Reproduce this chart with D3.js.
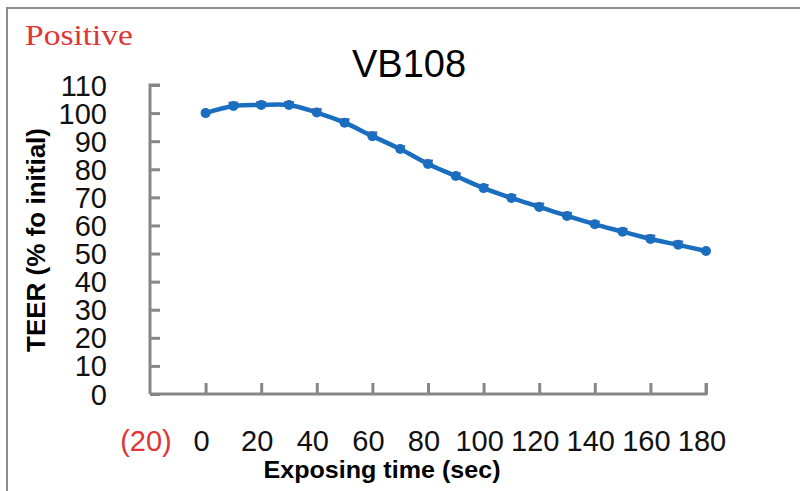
<!DOCTYPE html>
<html>
<head>
<meta charset="utf-8">
<script src="https://cdn.jsdelivr.net/npm/d3@7"></script>
<style>
  body { margin: 0; background: #fff; }
  text { font-family: Arial, "Liberation Sans", sans-serif; }
</style>
</head>
<body>
<div id="chart"></div>
<script>
// data
const times = [0, 10, 20, 30, 40, 50, 60, 70, 80, 90, 100, 110, 120, 130, 140, 150, 160, 170, 180];
const teer = [100, 102.5, 102.9, 102.9, 100.2, 96.6, 91.8, 87.2, 81.9, 77.6, 73.3, 69.8, 66.6, 63.4, 60.4, 57.8, 55.2, 53.1, 50.9];
const errs = [0, 1.2, 1.0, 1.0, 1.2, 1.2, 1.3, 1.0, 1.2, 1.0, 1.1, 1.0, 1.2, 1.1, 1.0, 1.0, 1.2, 1.2, 0];
const xTicks = [-20, 0, 20, 40, 60, 80, 100, 120, 140, 160, 180];
const yTicks = [0, 10, 20, 30, 40, 50, 60, 70, 80, 90, 100, 110];

const W = 800, H = 491;
const BLUE = "#1a6ec0";
const ERR = "#6a5a9a";
const AXIS = "#878787";

const svg = d3.select("#chart").append("svg")
    .attr("width", W)
    .attr("height", H);

// frame (top + left edges only)
svg.append("path")
    .attr("d", "M7,491 V8 H800")
    .attr("fill", "none")
    .attr("stroke", "#8c8c8c")
    .attr("stroke-width", 2);

// scales
const x = d3.scaleLinear().domain([-20, 180]).range([150, 706]);
const y = d3.scaleLinear().domain([0, 110]).range([394, 85]);

// y axis, ticks pointing inwards
const yAxis = svg.append("g")
    .attr("transform", "translate(150,0)")
    .call(d3.axisRight(y).tickValues(yTicks).tickSize(10).tickFormat(""));
yAxis.select(".domain").attr("d", `M10,${y(110)}H0V${y(0)}`);
yAxis.selectAll("path,line").attr("stroke", AXIS).attr("stroke-width", 3);

svg.append("g").selectAll("text")
    .data(yTicks)
    .join("text")
    .attr("x", 107)
    .attr("y", d => y(d) + 10.5)
    .attr("text-anchor", "end")
    .attr("font-size", 29)
    .attr("fill", "#111")
    .text(d => d);

// x axis
const xAxis = svg.append("g")
    .attr("transform", "translate(0,394)")
    .call(d3.axisTop(x).tickValues(xTicks.filter(d => d >= 0)).tickSize(11).tickFormat(""));
xAxis.select(".domain").attr("d", `M${x(-20)},0H${x(180)}V-11`);
xAxis.selectAll("path,line").attr("stroke", AXIS).attr("stroke-width", 3);

svg.append("g").selectAll("text")
    .data(xTicks)
    .join("text")
    .attr("x", d => x(d) - 4)
    .attr("y", 451)
    .attr("text-anchor", "middle")
    .attr("font-size", 29)
    .attr("fill", d => d < 0 ? "#e03535" : "#111")
    .text(d => d < 0 ? `(${-d})` : d);

// smoothed line
const line = d3.line()
    .x((d, i) => x(times[i]))
    .y(d => y(d))
    .curve(d3.curveCatmullRom.alpha(0.5));

svg.append("path")
    .datum(teer)
    .attr("fill", "none")
    .attr("stroke", BLUE)
    .attr("stroke-width", 4.5)
    .attr("d", line);

// error bars (upper caps only)
const pts = times.map((t, i) => ({t, v: teer[i], e: errs[i]})).filter(d => d.e > 0);
const eb = svg.append("g")
    .attr("stroke", ERR)
    .attr("stroke-width", 2);
eb.selectAll("line.v")
    .data(pts)
    .join("line")
    .attr("class", "v")
    .attr("x1", d => x(d.t))
    .attr("x2", d => x(d.t))
    .attr("y1", d => y(d.v))
    .attr("y2", d => y(d.v + d.e));
eb.selectAll("line.c")
    .data(pts)
    .join("line")
    .attr("class", "c")
    .attr("x1", d => x(d.t) - 5)
    .attr("x2", d => x(d.t) + 5)
    .attr("y1", d => y(d.v + d.e))
    .attr("y2", d => y(d.v + d.e));

// markers
svg.append("g").selectAll("circle")
    .data(teer)
    .join("circle")
    .attr("cx", (d, i) => x(times[i]))
    .attr("cy", d => y(d))
    .attr("r", 5)
    .attr("fill", BLUE);

// title
svg.append("text")
    .attr("x", 409)
    .attr("y", 77)
    .attr("text-anchor", "middle")
    .attr("font-size", 38)
    .attr("fill", "#000")
    .text("VB108");

// "Positive" label
svg.append("text")
    .attr("x", 25)
    .attr("y", 45)
    .attr("font-size", 29)
    .attr("textLength", 108)
    .attr("lengthAdjust", "spacingAndGlyphs")
    .attr("fill", "#e03535")
    .style("font-family", "'Liberation Serif', 'DejaVu Serif', serif")
    .text("Positive");

// axis titles
svg.append("text")
    .attr("transform", "translate(45,240) rotate(-90)")
    .attr("text-anchor", "middle")
    .attr("font-size", 26)
    .attr("font-weight", "bold")
    .attr("textLength", 224)
    .attr("lengthAdjust", "spacingAndGlyphs")
    .text("TEER (% fo initial)");

svg.append("text")
    .attr("x", 382)
    .attr("y", 478)
    .attr("text-anchor", "middle")
    .attr("font-size", 24)
    .attr("font-weight", "bold")
    .attr("textLength", 237)
    .attr("lengthAdjust", "spacingAndGlyphs")
    .text("Exposing time (sec)");
</script>
</body>
</html>
